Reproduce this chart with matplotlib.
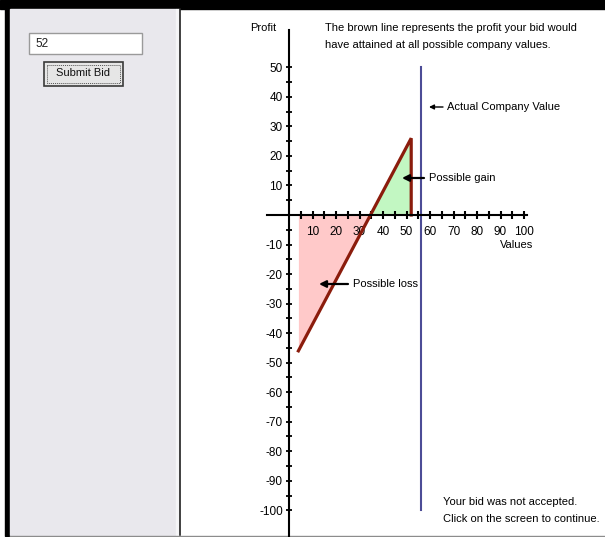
import numpy as np
import matplotlib
matplotlib.use("Agg")
import matplotlib.pyplot as plt
from matplotlib.patches import Rectangle

plt.rcParams['font.family'] = ['Liberation Sans', 'DejaVu Sans']
plt.rcParams['axes.unicode_minus'] = False

# data
bid = 52
profit_x = [4, 52, 52]          # company values
profit_y = [-46, 26, 0]         # profit of the bid
actual_value = 56
actual_span = [-100, 50]
x_major = list(range(10, 101, 10))
x_minor = list(range(5, 100, 10))
y_major = [v for v in range(-100, 51, 10) if v != 0]
y_minor = list(range(-95, 50, 10))

W, H = 605, 537
# pixel mapping of the chart (origin and pixels per unit)
X0, SX = 289, 2.35
Y0, SY = 215, 2.953

fig = plt.figure(figsize=(W/100, H/100), dpi=100)

def pixel_axes(zorder):
    a = fig.add_axes([0, 0, 1, 1], zorder=zorder)
    a.set_xlim(0, W)
    a.set_ylim(H, 0)
    a.axis('off')
    a.patch.set_alpha(0)
    return a

# background / UI in pixel coords
bg = pixel_axes(0)
bg.add_patch(Rectangle((0, 0), W, 9, color='black'))
bg.add_patch(Rectangle((5, 0), 5, 536, color='black'))
bg.add_patch(Rectangle((10, 9), 166, 526, color='#e9e8ed'))
bg.add_patch(Rectangle((176, 9), 2.5, 526, color='#f5f5f7'))
bg.plot([179.5, 179.5], [9, 535], color='#202020', lw=1.2)
bg.plot([10, W], [535.5, 535.5], color='#8c8c8c', lw=1)

# bid entry box
bg.add_patch(Rectangle((28.5, 32.5), 113.5, 21.5, facecolor='white', edgecolor='#9a9a9a', lw=1))
bg.text(35, 44, str(bid), fontsize=8.5, va='center', ha='left', color='#202020')
# submit button
bg.add_patch(Rectangle((43.5, 61.5), 79, 24, facecolor='#e6e6e6', edgecolor='#3a3a3a', lw=1.2))
bg.add_patch(Rectangle((46.5, 64.5), 73, 18, facecolor='none', edgecolor='#555555', lw=0.7, ls=(0, (1, 1))))
bg.text(83, 73.5, 'Submit Bid', fontsize=8, va='center', ha='center', color='#111111')

# chart axes placed so the data maps to the pixel grid
left_px, right_px, top_px, bot_px = 181, W, 10, 534
ax = fig.add_axes([left_px/W, (H-bot_px)/H, (right_px-left_px)/W, (bot_px-top_px)/H], zorder=1)
ax.set_facecolor('none')
ax.set_xlim((left_px-X0)/SX, (right_px-X0)/SX)
ax.set_ylim((Y0-bot_px)/SY, (Y0-top_px)/SY)

for s in ['top', 'right']:
    ax.spines[s].set_visible(False)
ax.spines['left'].set_position(('data', 0))
ax.spines['bottom'].set_position(('data', 0))
ax.spines['left'].set_bounds((Y0-540)/SY, (Y0-30)/SY)
ax.spines['bottom'].set_bounds((267-X0)/SX, (527-X0)/SX)
for s in ['left', 'bottom']:
    ax.spines[s].set_linewidth(1.5)

ax.set_xticks(x_major)
ax.set_xticks(x_minor, minor=True)
ax.set_yticks(y_major)
ax.set_yticks(y_minor, minor=True)
ax.tick_params(axis='x', which='both', direction='inout', length=6, width=1.5, labelsize=8.5, pad=5)
ax.tick_params(axis='y', which='both', direction='inout', length=5, width=1.3, labelsize=8.5, pad=2)

# filled regions
px = np.array(profit_x[:2], dtype=float)
py = np.array(profit_y[:2], dtype=float)
ax.fill_between(px, py, 0, where=py <= 0, interpolate=True, color='#ffc9c9', lw=0)
ax.fill_between(px, py, 0, where=py >= 0, interpolate=True, color='#c2f7c2', lw=0)
ax.plot(profit_x, profit_y, color='#8b1c0c', lw=2.3, solid_joinstyle='miter')

ax.plot([actual_value, actual_value], actual_span, color='#4c4c96', lw=1.5)

# labels, notes and arrows on top (pixel coords)
top = pixel_axes(2)
fs = 8
top.text(276, 28, 'Profit', fontsize=fs, ha='right', va='center')
top.text(325, 28, 'The brown line represents the profit your bid would', fontsize=fs, ha='left', va='center')
top.text(325, 45, 'have attained at all possible company values.', fontsize=fs, ha='left', va='center')
top.text(533, 245, 'Values', fontsize=fs, ha='right', va='center')
top.text(443, 502, 'Your bid was not accepted.', fontsize=fs, ha='left', va='center')
top.text(443, 519, 'Click on the screen to continue.', fontsize=fs, ha='left', va='center')

arrow = dict(arrowstyle='-|>', color='black', lw=1.6, mutation_scale=10, shrinkA=0, shrinkB=0)
top.annotate('', xy=(429, 107), xytext=(443, 107), arrowprops=dict(arrow, lw=1.0, mutation_scale=7))
top.text(447, 107, 'Actual Company Value', fontsize=fs, ha='left', va='center')
top.annotate('', xy=(402, 178), xytext=(424, 178), arrowprops=arrow)
top.text(429, 178, 'Possible gain', fontsize=fs, ha='left', va='center')
top.annotate('', xy=(319, 284), xytext=(348, 284), arrowprops=arrow)
top.text(353, 284, 'Possible loss', fontsize=fs, ha='left', va='center')

fig.savefig('out.png', dpi=100)
